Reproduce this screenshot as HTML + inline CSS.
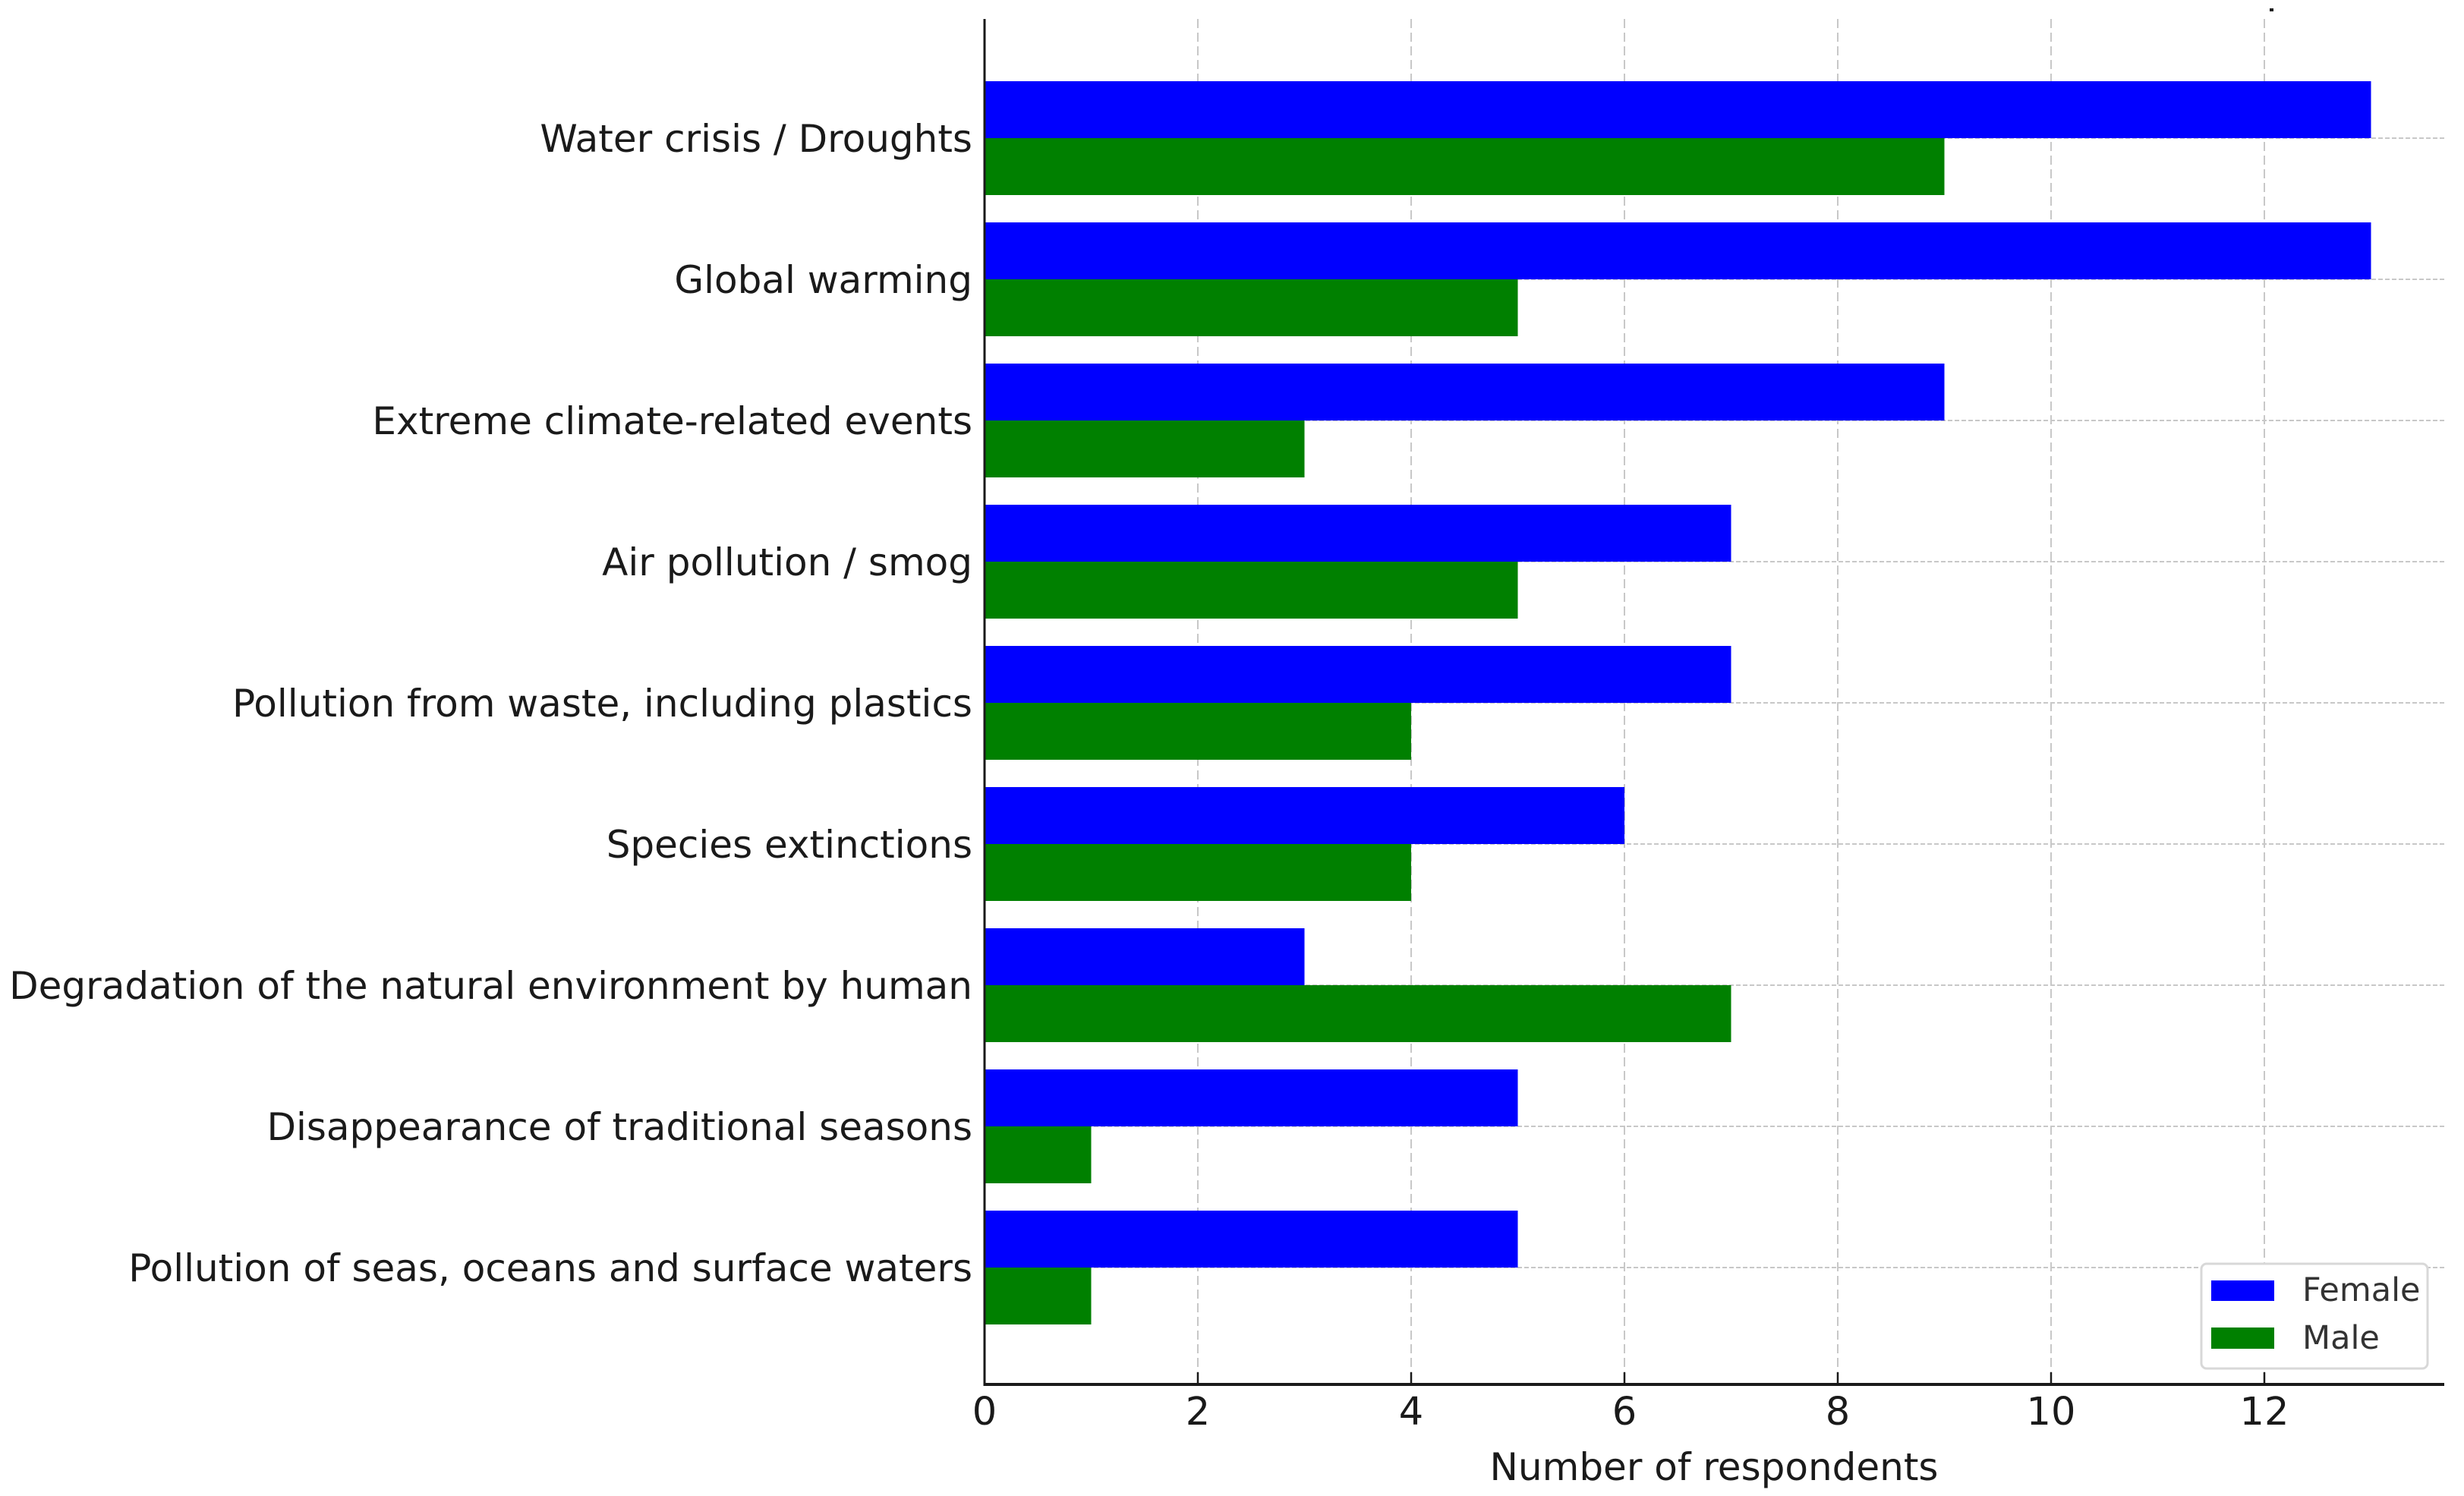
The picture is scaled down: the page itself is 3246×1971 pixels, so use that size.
<!DOCTYPE html>
<html><head><meta charset="utf-8"><style>
html,body{margin:0;padding:0;background:#fff}
svg{display:block;font-family:"DejaVu Sans","Liberation Sans",sans-serif}
</style></head><body>
<svg id="chart" width="3246" height="1971" viewBox="0 0 3246 1971" xmlns="http://www.w3.org/2000/svg"></svg>
<script>
const categories = ["Water crisis / Droughts","Global warming","Extreme climate-related events","Air pollution / smog","Pollution from waste, including plastics","Species extinctions","Degradation of the natural environment by human","Disappearance of traditional seasons","Pollution of seas, oceans and surface waters"];
const femaleValues = [13,13,9,7,7,6,3,5,5];
const maleValues = [9,5,3,5,4,4,7,1,1];
const xTicks = [0,2,4,6,8,10,12];

const NS="http://www.w3.org/2000/svg";
const svg=document.getElementById('chart');
const X0=1297, PXU=140.5, Y0=182, STEP=186, BH=75, AXB=1824, AXT=25, AXR=3220;
const xs=v=>X0+v*PXU;
const yc=i=>Y0+i*STEP;
function mk(tag,attrs,parent){const e=document.createElementNS(NS,tag);for(const k in attrs)e.setAttribute(k,attrs[k]);(parent||svg).appendChild(e);return e;}

const grid=mk('g',{});


xTicks.forEach(t=>{const l=mk('line',{x1:xs(t),x2:xs(t),y1:AXT,y2:AXB,stroke:'#c8c8c8','stroke-width':2,'stroke-dasharray':'12,6'},grid);

});
categories.forEach((c,i)=>{const l=mk('line',{x1:X0,x2:AXR,y1:yc(i),y2:yc(i),stroke:'#c8c8c8','stroke-width':2,'stroke-dasharray':'6,3'},grid);

});

categories.forEach((c,i)=>{
  const f=mk('rect',{x:X0,y:yc(i)-BH,width:xs(femaleValues[i])-X0,height:BH,fill:'#0000ff'});
  
  
  const m=mk('rect',{x:X0,y:yc(i),width:xs(maleValues[i])-X0,height:BH,fill:'#008000'});
  
  
  const t=mk('text',{x:1281,y:yc(i)+18,'text-anchor':'end','font-size':50,fill:'#1a1a1a'});
  t.textContent=c;
  
  
});

const ax=mk('line',{x1:X0,x2:X0,y1:AXT,y2:AXB+2,stroke:'#1a1a1a','stroke-width':3});


const bx=mk('line',{x1:X0,x2:AXR,y1:AXB,y2:AXB,stroke:'#1a1a1a','stroke-width':4});


xTicks.forEach(t=>{
  const k=mk('line',{x1:xs(t),x2:xs(t),y1:AXB-16,y2:AXB,stroke:'#1a1a1a','stroke-width':2.5});
  
  
  const l=mk('text',{x:xs(t),y:1877,'text-anchor':'middle','font-size':51,fill:'#1a1a1a'});
  l.textContent=t;
  
  
});
const xt=mk('text',{x:2258,y:1950,'text-anchor':'middle','font-size':50,fill:'#1a1a1a'});
xt.textContent='Number of respondents';



const lg=mk('g',{});


mk('rect',{x:2900,y:1665,width:298,height:138,rx:7,fill:'#fff',stroke:'#d8d8d8','stroke-width':3},lg);
const lf=mk('rect',{x:2913,y:1687,width:83,height:27,fill:'#0000ff'},lg);


const tf=mk('text',{x:3033,y:1714,'font-size':43,fill:'#333'},lg);
tf.textContent='Female';


const lm=mk('rect',{x:2913,y:1749,width:83,height:28,fill:'#008000'},lg);


const tm=mk('text',{x:3033,y:1777,'font-size':43,fill:'#333'},lg);
tm.textContent='Male';


mk('rect',{x:2990,y:11,width:5,height:4,fill:'#1a1a1a'});
</script>
</body></html>
